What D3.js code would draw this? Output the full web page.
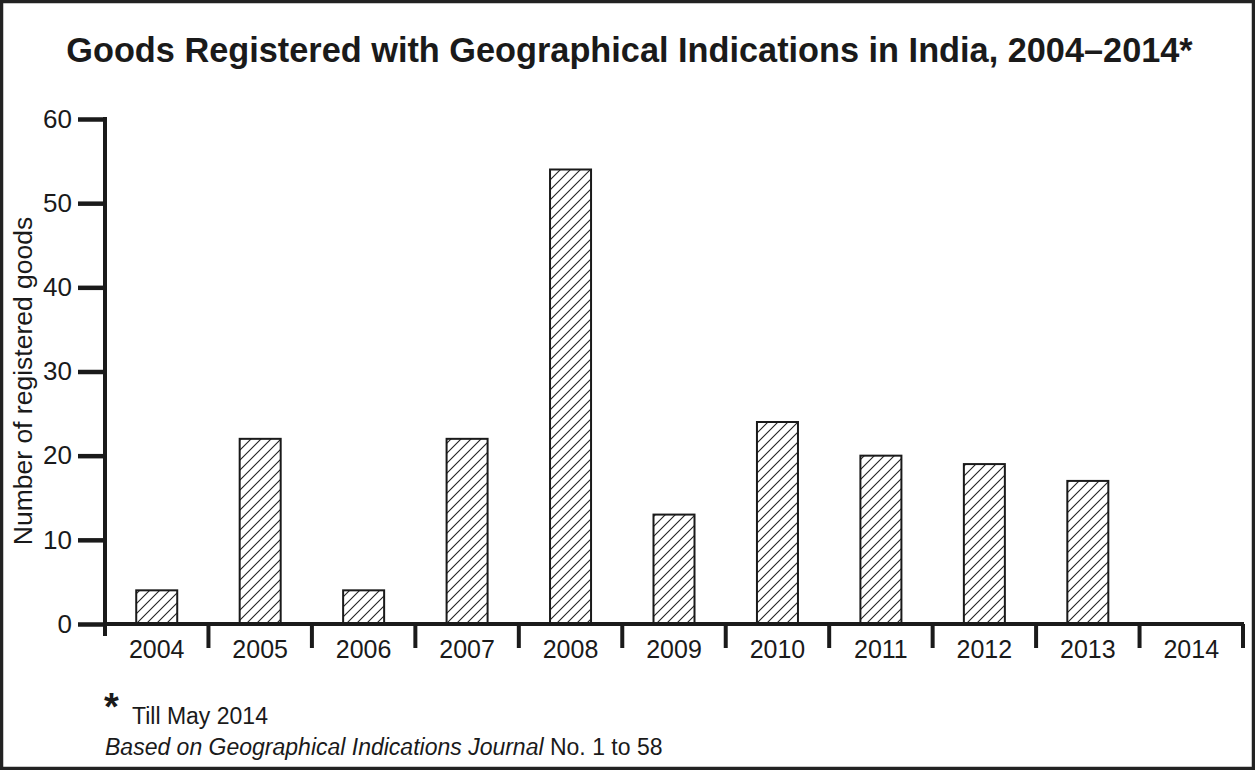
<!DOCTYPE html>
<html><head><meta charset="utf-8">
<script src="https://cdn.jsdelivr.net/npm/d3@7"></script>
<style>body{margin:0;background:#fff;} svg{display:block;font-family:"Liberation Sans",Arial,sans-serif;}</style>
</head><body>
<svg id="c" width="1255" height="770"></svg>
<script>
const years = ["2004","2005","2006","2007","2008","2009","2010","2011","2012","2013","2014"];
const counts = [4,22,4,22,54,13,24,20,19,17,0];
const yTicks = [0,10,20,30,40,50,60];

const svg = d3.select("#c");
const W = 1255, H = 770;
svg.append("rect").attr("x",1.5).attr("y",1.5).attr("width",W-3).attr("height",H-3)
  .attr("fill","#fff").attr("stroke","#222").attr("stroke-width",3.5);

const defs = svg.append("defs");
const pat = defs.append("pattern").attr("id","hatch").attr("patternUnits","userSpaceOnUse")
  .attr("width",10).attr("height",10);
pat.append("rect").attr("width",10).attr("height",10).attr("fill","#fff");
pat.append("path").attr("d","M-2.5,2.5 l5,-5 M0,10 l10,-10 M7.5,12.5 l5,-5")
  .attr("stroke","#222").attr("stroke-width",1.1);

const x0 = 105, x1 = 1243, yTop = 119, yBase = 624;
const xb = d3.scaleBand().domain(years).range([x0,x1]);
const y = d3.scaleLinear().domain([0,60]).range([yBase,yTop]);

svg.append("text").attr("x",629.5).attr("y",62).attr("text-anchor","middle")
  .attr("font-size",34.3).attr("font-weight","bold").attr("fill","#1a1a1a")
  .text("Goods Registered with Geographical Indications in India, 2004\u20132014*");

// bars
svg.append("g").selectAll("rect").data(years.map((d,i)=>({y:d,v:counts[i]})).filter(d=>d.v>0))
  .join("rect")
  .attr("x",d=>xb(d.y)+xb.bandwidth()/2-20.5).attr("width",41)
  .attr("y",d=>y(d.v)).attr("height",d=>yBase-y(d.v))
  .attr("fill","url(#hatch)").attr("stroke","#1a1a1a").attr("stroke-width",2);

// y axis
const ya = svg.append("g").attr("transform",`translate(${x0},0)`)
  .call(d3.axisLeft(y).tickValues(yTicks).tickSize(27).tickPadding(6));
ya.select(".domain").remove();
ya.selectAll(".tick line").attr("stroke","#1a1a1a").attr("stroke-width",4.5);
ya.selectAll(".tick text").attr("font-size",26).attr("fill","#1a1a1a").attr("font-family","Liberation Sans, Arial, sans-serif");
svg.append("line").attr("x1",x0).attr("x2",x0).attr("y1",yTop-2).attr("y2",yBase+12)
  .attr("stroke","#1a1a1a").attr("stroke-width",4);

// x axis
svg.append("line").attr("x1",x0).attr("x2",x1+1).attr("y1",yBase).attr("y2",yBase)
  .attr("stroke","#1a1a1a").attr("stroke-width",4);
const bounds = years.map(d=>xb(d)).concat([x1]);
svg.append("g").selectAll("line").data(bounds.slice(1)).join("line")
  .attr("x1",d=>d).attr("x2",d=>d).attr("y1",yBase).attr("y2",yBase+24)
  .attr("stroke","#1a1a1a").attr("stroke-width",4);
svg.append("g").selectAll("text").data(years).join("text")
  .attr("x",d=>xb(d)+xb.bandwidth()/2).attr("y",yBase+34).attr("text-anchor","middle")
  .attr("font-size",25).attr("fill","#1a1a1a").text(d=>d);

svg.append("text").attr("transform","translate(32,381) rotate(-90)").attr("text-anchor","middle")
  .attr("font-size",26.5).attr("fill","#1a1a1a").text("Number of registered goods");

// footnotes
svg.append("text").attr("x",104).attr("y",720).attr("font-size",38).attr("font-weight","bold").attr("fill","#1a1a1a").text("*");
svg.append("text").attr("x",132).attr("y",724).attr("font-size",23).attr("fill","#1a1a1a").text("Till May 2014");
const ft = svg.append("text").attr("x",105).attr("y",755).attr("font-size",23).attr("fill","#1a1a1a");
ft.append("tspan").attr("font-style","italic").text("Based on Geographical Indications Journal");
ft.append("tspan").text(" No. 1 to 58");
</script>
</body></html>
